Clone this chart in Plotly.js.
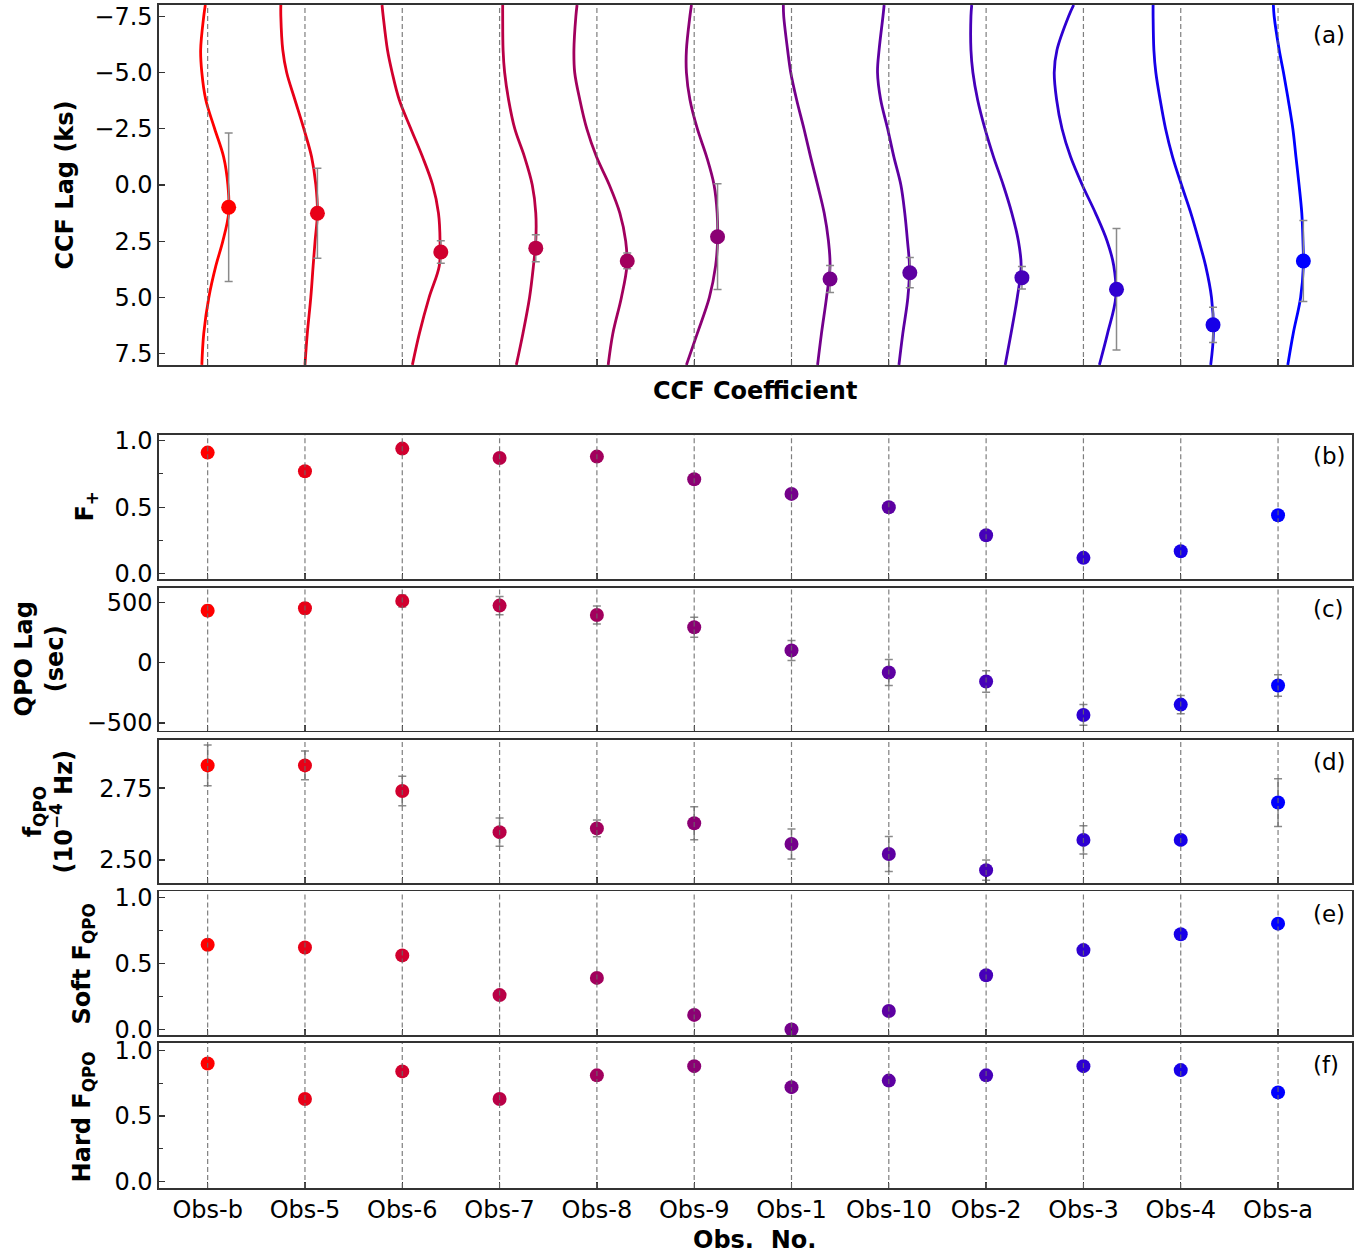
<!DOCTYPE html>
<html>
<head>
<meta charset="utf-8">
<script src="https://cdn.plot.ly/plotly-3.0.1.min.js"></script>
<style>html,body{margin:0;padding:0;background:#fff;}#plot{width:1369px;height:1254px;}</style>
</head>
<body>
<div id="plot"></div>
<script>
// ---------------- DATA ----------------
const categories = ['Obs-b','Obs-5','Obs-6','Obs-7','Obs-8','Obs-9','Obs-1','Obs-10','Obs-2','Obs-3','Obs-4','Obs-a'];

// CCF curves (panel a): CCF coefficient sampled at these lags (ks)
const ccfLagGrid = [-8, -7.5, -6, -5, -3.8, -2.5, -1.25, 0, 1.25, 2.5, 3.6, 5, 6.6, 8];
const ccfObsB  = [-0.06,-0.10,-0.18,-0.15,-0.05, 0.18, 0.41, 0.52, 0.54, 0.39, 0.21, 0.03,-0.10,-0.15];
const ccfObs5  = [-0.62,-0.62,-0.57,-0.47,-0.26,-0.03, 0.17, 0.28, 0.32, 0.26, 0.21, 0.15, 0.06, 0.00];
const ccfObs6  = [-0.52,-0.49,-0.38,-0.26,-0.08, 0.22, 0.52, 0.78, 0.93, 0.97, 0.95, 0.69, 0.44, 0.26];
const ccfObs7  = [ 0.08, 0.08, 0.09, 0.13, 0.23, 0.39, 0.64, 0.84, 0.93, 0.93, 0.87, 0.77, 0.60, 0.43];
const ccfObs8  = [-0.51,-0.54,-0.59,-0.57,-0.44,-0.26,-0.01, 0.32, 0.59, 0.74, 0.77, 0.63, 0.41, 0.29];
const ccfObs9  = [-0.07,-0.11,-0.20,-0.20,-0.11, 0.08, 0.32, 0.51, 0.59, 0.60, 0.55, 0.39, 0.08,-0.20];
const ccfObs1  = [-0.21,-0.20,-0.10,-0.02, 0.13, 0.32, 0.49, 0.67, 0.84, 0.95, 0.99, 0.90, 0.77, 0.67];
const ccfObs10 = [-0.12,-0.15,-0.25,-0.29,-0.21,-0.03, 0.13, 0.31, 0.41, 0.48, 0.53, 0.49, 0.36, 0.26];
const ccfObs2  = [-0.37,-0.39,-0.39,-0.34,-0.22,-0.03, 0.19, 0.44, 0.66, 0.83, 0.90, 0.80, 0.64, 0.49];
const ccfObs3  = [-0.25,-0.38,-0.68,-0.75,-0.69,-0.55,-0.33,-0.03, 0.31, 0.61, 0.78, 0.83, 0.62, 0.41];
const ccfObs4  = [-0.71,-0.71,-0.69,-0.64,-0.53,-0.39,-0.21, 0.02, 0.26, 0.47, 0.64, 0.79, 0.84, 0.77];
const ccfObsA  = [-0.12,-0.10, 0.03, 0.14, 0.26, 0.38, 0.46, 0.54, 0.61, 0.64, 0.65, 0.58, 0.39, 0.25];
const ccfCurves = [ccfObsB, ccfObs5, ccfObs6, ccfObs7, ccfObs8, ccfObs9, ccfObs1, ccfObs10, ccfObs2, ccfObs3, ccfObs4, ccfObsA];

// CCF peaks (panel a)
const peakCcf    = [0.54, 0.32, 0.99, 0.93, 0.78, 0.60, 0.99, 0.54, 0.92, 0.85, 0.83, 0.65];
const peakLag    = [0.99, 1.26, 2.98, 2.81, 3.38, 2.30, 4.18, 3.90, 4.12, 4.64, 6.22, 3.38];
const peakLagErr = [3.30, 2.00, 0.50, 0.60, 0.35, 2.35, 0.60, 0.67, 0.50, 2.70, 0.78, 1.80];

// panel b: F+
const fPlus    = [0.91, 0.77, 0.94, 0.87, 0.88, 0.71, 0.60, 0.50, 0.29, 0.12, 0.17, 0.44];
const fPlusErr = [0.02, 0.02, 0.02, 0.02, 0.02, 0.02, 0.02, 0.02, 0.02, 0.02, 0.02, 0.02];
// panel c: QPO lag (sec)
const qpoLag    = [433, 453, 514, 475, 397, 295, 103, -80, -155, -433, -347, -188];
const qpoLagErr = [45, 45, 50, 75, 75, 83, 83, 108, 90, 86, 76, 90];
// panel d: f_QPO (1e-4 Hz)
const fQpo    = [2.829, 2.829, 2.740, 2.597, 2.610, 2.628, 2.556, 2.521, 2.465, 2.570, 2.570, 2.700];
const fQpoErr = [0.071, 0.050, 0.051, 0.049, 0.029, 0.057, 0.052, 0.061, 0.035, 0.049, 0.010, 0.083];
// panel e: Soft F_QPO
const softF    = [0.64, 0.62, 0.56, 0.26, 0.39, 0.11, 0.00, 0.14, 0.41, 0.60, 0.72, 0.80];
const softFErr = [0.02, 0.02, 0.02, 0.02, 0.02, 0.02, 0.02, 0.02, 0.02, 0.02, 0.02, 0.02];
// panel f: Hard F_QPO
const hardF    = [0.90, 0.63, 0.84, 0.63, 0.81, 0.88, 0.72, 0.77, 0.81, 0.88, 0.85, 0.68];
const hardFErr = [0.02, 0.02, 0.02, 0.02, 0.02, 0.02, 0.02, 0.02, 0.02, 0.02, 0.02, 0.02];

const panelLabels = ['(a)','(b)','(c)','(d)','(e)','(f)'];

// ---------------- STYLE / LAYOUT ----------------
const N = categories.length;
const idx = categories.map((_, i) => i);
const colors = idx.map(i => {
  const t = i / (N - 1);
  return 'rgb(' + Math.round(255 * (1 - t)) + ',0,' + Math.round(255 * t) + ')';
});
const CCF_SCALE = 0.4; // category widths per unit CCF coefficient

const W = 1369, H = 1254;
const L = 159.3, R = 1351.7, T = 5, B = 1188.3;
const px2x = p => (p - L) / (R - L);
const px2y = p => (B - p) / (B - T);
const dom = (top, bot) => [Math.max(0, px2y(bot)), Math.min(1, px2y(top))];

const FONT = 'DejaVu Sans, Liberation Sans, sans-serif';
const TICKFONT = {family: FONT, size: 24, color: '#000'};
const TITLEFONT = {family: FONT, size: 24, color: '#000', weight: 'bold'};
const AX = '#333';
const errStyle = arr => ({type: 'data', array: arr, visible: true, color: '#8a8a8a', thickness: 1.5, width: 4});

const traces = [];
// panel a curves
ccfCurves.forEach((c, i) => {
  traces.push({
    type: 'scatter', mode: 'lines', xaxis: 'x', yaxis: 'y',
    x: c.map(v => i + CCF_SCALE * v), y: ccfLagGrid,
    line: {color: colors[i], width: 2.8, shape: 'spline', smoothing: 1.0},
    hoverinfo: 'skip', showlegend: false
  });
});
traces.push({
  type: 'scatter', mode: 'markers', xaxis: 'x', yaxis: 'y',
  x: peakCcf.map((v, i) => i + CCF_SCALE * v), y: peakLag,
  error_y: errStyle(peakLagErr),
  marker: {color: colors, size: 15}, showlegend: false
});
const panelData = [[fPlus, fPlusErr], [qpoLag, qpoLagErr], [fQpo, fQpoErr], [softF, softFErr], [hardF, hardFErr]];
panelData.forEach((pd, k) => {
  const n = k + 2;
  traces.push({
    type: 'scatter', mode: 'markers', xaxis: 'x' + n, yaxis: 'y' + n,
    x: idx, y: pd[0], error_y: errStyle(pd[1]),
    marker: {color: colors, size: 14}, showlegend: false
  });
});

const panelsPx = [[5, 365], [435, 579.3], [587.7, 730.7], [740, 883.3], [891.7, 1035.7], [1043.3, 1188.3]];
const yRanges = [[8, -8], [-0.04, 1.043], [-562, 625], [2.42, 2.918], [-0.045, 1.043], [-0.048, 1.056]];

const layout = {
  width: W, height: H,
  margin: {l: L, r: W - R, t: T, b: H - B, pad: 0},
  paper_bgcolor: '#fff', plot_bgcolor: '#fff',
  font: {family: FONT, size: 24, color: '#000'},
  showlegend: false,
  shapes: [], annotations: []
};

for (let k = 0; k < 6; k++) {
  const n = k + 1;
  const xs = n === 1 ? '' : String(n);
  const xa = {
    domain: [0, 1], range: [-0.5, 11.76], anchor: 'y' + xs,
    tickmode: 'array', tickvals: idx, ticktext: categories,
    showticklabels: k === 5,
    ticks: 'inside', ticklen: 6, tickwidth: 1.3, tickcolor: AX,
    showline: true, mirror: true, linecolor: AX, linewidth: 1.6,
    showgrid: false, zeroline: false, tickfont: TICKFONT, fixedrange: true
  };
  if (k > 0) xa.matches = 'x';
  const ya = {
    domain: dom(panelsPx[k][0], panelsPx[k][1]), range: yRanges[k], anchor: 'x' + xs,
    ticks: 'inside', ticklen: 6, tickwidth: 1.3, tickcolor: AX,
    showline: true, mirror: true, linecolor: AX, linewidth: 1.6,
    showgrid: false, zeroline: false, tickfont: TICKFONT, fixedrange: true
  };
  if (k === 0) { ya.tick0 = 0; ya.dtick = 2.5; ya.tickformat = '.1f'; }
  if (k === 1 || k === 4 || k === 5) {
    ya.tick0 = 0; ya.dtick = 0.5; ya.tickformat = '.1f';
    ya.minor = {dtick: 0.25, tick0: 0, ticks: 'inside', ticklen: 3.5, tickwidth: 1.1, tickcolor: AX, showgrid: false};
  }
  if (k === 2) { ya.tickmode = 'array'; ya.tickvals = [-500, 0, 500]; ya.ticktext = ['\u2212500', '0', '500']; }
  if (k === 3) { ya.tickmode = 'array'; ya.tickvals = [2.5, 2.75]; ya.tickformat = '.2f'; }
  layout['xaxis' + xs] = xa;
  layout['yaxis' + xs] = ya;

  // dashed vertical reference lines
  idx.forEach(i => {
    layout.shapes.push({
      type: 'line', xref: 'x' + xs, yref: 'y' + xs + ' domain',
      x0: i, x1: i, y0: 0, y1: 1, layer: 'above',
      line: {color: 'rgba(105,105,105,0.85)', width: 1.2, dash: '5px,3px'}
    });
  });

  // panel label
  const labelCenterPx = [35, 456, 609, 761.7, 914, 1065.5][k];
  layout.annotations.push({
    xref: 'paper', yref: 'paper', x: px2x(1311), y: px2y(labelCenterPx),
    xanchor: 'left', yanchor: 'middle', showarrow: false,
    text: panelLabels[k], font: {family: FONT, size: 23, color: '#000'}
  });
}

// axis titles as annotations
const yTitles = [
  {text: 'CCF Lag (ks)', x: 65, y: 185},
  {text: 'F<sub>+</sub>', x: 87, y: 507},
  {text: 'QPO Lag<br>(sec)', x: 40, y: 659},
  {text: 'f<sub>QPO</sub><br>(10<sup>\u22124</sup> Hz)', x: 49, y: 812},
  {text: 'Soft F<sub>QPO</sub>', x: 84, y: 964},
  {text: 'Hard F<sub>QPO</sub>', x: 84, y: 1117}
];
yTitles.forEach(t => {
  layout.annotations.push({
    xref: 'paper', yref: 'paper', x: px2x(t.x), y: px2y(t.y),
    xanchor: 'center', yanchor: 'middle', textangle: -90, showarrow: false,
    text: '<b>' + t.text + '</b>', font: TITLEFONT
  });
});
layout.annotations.push({
  xref: 'paper', yref: 'paper', x: px2x(755), y: px2y(391),
  xanchor: 'center', yanchor: 'middle', showarrow: false,
  text: '<b>CCF Coefficient</b>', font: TITLEFONT
});
layout.annotations.push({
  xref: 'paper', yref: 'paper', x: px2x(755), y: px2y(1240),
  xanchor: 'center', yanchor: 'middle', showarrow: false,
  text: '<b>Obs.&nbsp; No.</b>', font: TITLEFONT
});

Plotly.newPlot('plot', traces, layout, {displayModeBar: false, staticPlot: true});
</script>
</body>
</html>
